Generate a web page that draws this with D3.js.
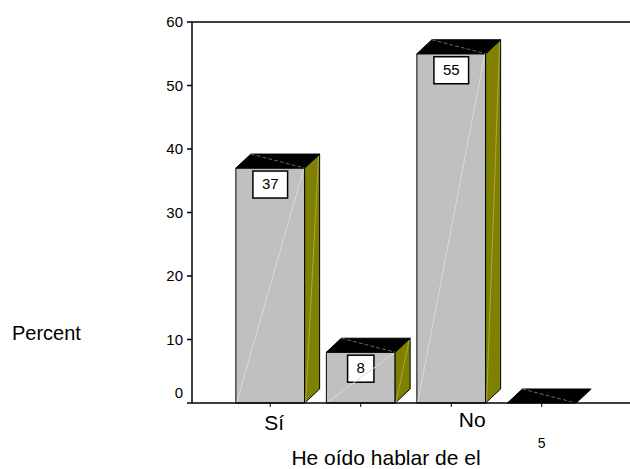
<!DOCTYPE html>
<meta charset="utf-8">
<style>
body {
  background: #fff;
  margin: 0;
  padding: 0;
}
svg text {
  font-family: 'Liberation Sans', Arial, sans-serif;
  fill: #000;
}
.front {
  fill: #c0c0c0;
  stroke: #000;
  stroke-width: 1px;
}
.side {
  fill: #808000;
  stroke: #000;
  stroke-width: 1px;
}
.top {
  fill: #000;
  stroke: #000;
  stroke-width: 1px;
}
.shine {
  fill: none;
  stroke: #dadada;
  stroke-width: 1px;
}
.shine-side {
  fill: none;
  stroke: #a8a840;
  stroke-width: 1px;
}
.shine-top {
  fill: none;
  stroke: #666;
  stroke-width: 1px;
  stroke-dasharray: 4,2;
}
.box {
  fill: #fff;
  stroke: #000;
  stroke-width: 1.5px;
}
.axis-line {
  stroke: #000;
  stroke-width: 1.5px;
  fill: none;
}
</style>
<body>
<script src="https://d3js.org/d3.v7.min.js"></script>
<script>
var categories = ["Sí", "", "No", "5"];
var percents = [37, 8, 55, 0];
var yTicks = [0, 10, 20, 30, 40, 50, 60];

var width = 630,
    height = 469;

var plotLeft = 192, plotRight = 630, plotTop = 22, plotBottom = 403;
var depthX = 15, depthY = -14;

var svg = d3.select("body").append("svg")
    .attr("width", width)
    .attr("height", height)
    .style("display", "block");

var y = d3.scaleLinear()
    .domain([0, 60])
    .range([plotBottom, plotTop]);

var x = d3.scaleBand()
    .domain(d3.range(categories.length))
    .range([225, 587])
    .paddingInner(0.24)
    .paddingOuter(0.12);

// frame lines
svg.append("line").attr("class", "axis-line")
    .attr("x1", plotLeft).attr("x2", plotRight).attr("y1", plotTop).attr("y2", plotTop);
svg.append("line").attr("class", "axis-line")
    .attr("x1", plotLeft).attr("x2", plotLeft).attr("y1", plotTop).attr("y2", plotBottom);

// y ticks
yTicks.forEach(function(t) {
  svg.append("line")
      .attr("x1", plotLeft - 5).attr("x2", plotLeft)
      .attr("y1", y(t)).attr("y2", y(t))
      .attr("stroke", "#000").attr("stroke-width", 1.5);
  svg.append("text")
      .attr("x", plotLeft - 9)
      .attr("y", y(t) + (t === 0 ? -5 : 5))
      .attr("text-anchor", "end")
      .style("font-size", "15px")
      .text(t);
});

// bars
var bars = svg.selectAll("g.bar")
    .data(percents)
    .enter().append("g")
    .attr("class", "bar");

bars.each(function(d, i) {
  var g = d3.select(this);
  var x0 = x(i), x1 = x(i) + x.bandwidth();
  var yt = y(d);
  if (d > 0) {
    g.append("path").attr("class", "front")
        .attr("d", "M" + x0 + "," + plotBottom + "L" + x0 + "," + yt + "L" + x1 + "," + yt + "L" + x1 + "," + plotBottom + "Z");
    g.append("path").attr("class", "side")
        .attr("d", "M" + x1 + "," + plotBottom + "L" + x1 + "," + yt + "L" + (x1 + depthX) + "," + (yt + depthY) +
          "L" + (x1 + depthX) + "," + (plotBottom + depthY) + "Z");
    g.append("line").attr("class", "shine-side")
        .attr("x1", x1 + depthX - 1).attr("y1", yt + depthY + 2)
        .attr("x2", x1 + 1).attr("y2", plotBottom - 1);
  }
  g.append("path").attr("class", "top")
      .attr("d", "M" + x0 + "," + yt + "L" + (x0 + depthX) + "," + (yt + depthY) + "L" + (x1 + depthX) + "," + (yt + depthY) +
        "L" + x1 + "," + yt + "Z");
  g.append("line").attr("class", "shine-top")
      .attr("x1", x0 + depthX).attr("y1", yt + depthY)
      .attr("x2", x1).attr("y2", yt);
  if (d > 0) {
    var cx = x0 + x.bandwidth() / 2;
    var label = g.append("text")
        .attr("x", cx)
        .attr("y", yt + 21)
        .attr("text-anchor", "middle")
        .style("font-size", "15px")
        .text(d);
    var w = label.node().getComputedTextLength() + 18;
    g.insert("rect", "text").attr("class", "box")
        .attr("x", cx - w / 2).attr("y", yt + 3)
        .attr("width", w).attr("height", 27);
    g.append("line").attr("class", "shine")
        .attr("x1", x0 + 1).attr("y1", plotBottom - 1)
        .attr("x2", x1 - 1).attr("y2", yt + 1);
  }
});

// x axis
svg.append("line").attr("class", "axis-line")
    .attr("x1", plotLeft).attr("x2", plotRight).attr("y1", plotBottom).attr("y2", plotBottom);

var labelShift = [[4, 27], [0, 27], [21, 24], [0, 45]];
categories.forEach(function(c, i) {
  var cx = x(i) + x.bandwidth() / 2;
  svg.append("line")
      .attr("x1", cx).attr("x2", cx)
      .attr("y1", plotBottom).attr("y2", plotBottom + 4)
      .attr("stroke", "#000").attr("stroke-width", 1);
  svg.append("text")
      .attr("x", cx + labelShift[i][0])
      .attr("y", plotBottom + labelShift[i][1])
      .attr("text-anchor", "middle")
      .style("font-size", i === 3 ? "14px" : "21px")
      .text(c);
});

// axis titles
svg.append("text")
    .attr("x", 386)
    .attr("y", 465)
    .attr("text-anchor", "middle")
    .style("font-size", "21px")
    .text("He oído hablar de el");

svg.append("text")
    .attr("x", 12)
    .attr("y", 340)
    .style("font-size", "20px")
    .text("Percent");
</script>
</body>
